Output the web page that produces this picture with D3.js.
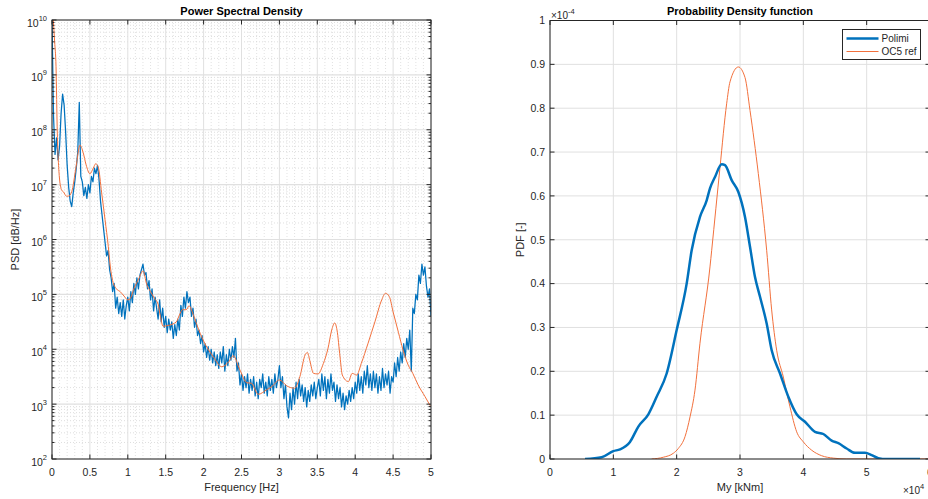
<!DOCTYPE html>
<html>
<head>
<meta charset="utf-8">
<script src="https://cdn.jsdelivr.net/npm/d3@7"></script>
<style>
  html, body { margin: 0; padding: 0; background: #ffffff; }
  svg { display: block; }
</style>
</head>
<body>
<script>
// ---------- Power spectral density ----------
// Polimi PSD sampled every 0.02 Hz from 0 to 5 Hz
const psdStep = 0.02;
const psdPolimi = [
  1e10, 1.78e8, 3.55e7, 7.08e7, 2.82e7, 5.01e7, 2.0e8, 4.47e8, 2.82e8, 8.91e7,
  2.24e7, 8.91e6, 5.01e6, 3.98e6, 7.08e6, 1.12e7, 2.0e7, 3.98e7, 3.16e8, 1.41e7,
  1.12e7, 6.31e6, 8.91e6, 5.62e6, 1.0e7, 7.08e6, 1.41e7, 1.12e7, 2.0e7, 1.58e7,
  2.24e7, 1.26e7, 5.01e6, 2.82e6, 1.58e6, 8.91e5, 5.01e5, 6.31e5, 2.82e5, 2.0e5,
  1.12e5, 1.58e5, 5.62e4, 8.91e4, 4.47e4, 7.08e4, 3.98e4, 7.94e4, 3.55e4, 6.31e4,
  8.91e4, 5.01e4, 1.12e5, 7.08e4, 1.58e5, 1.0e5, 2.0e5, 1.26e5, 2.24e5, 2.82e5,
  3.55e5, 2.24e5, 2.51e5, 1.26e5, 1.78e5, 7.94e4, 1.26e5, 5.01e4, 8.91e4, 5.62e4,
  3.55e4, 7.94e4, 3.16e4, 5.62e4, 2.51e4, 3.98e4, 2.0e4, 3.55e4, 2.24e4, 3.16e4,
  1.58e4, 2.82e4, 1.78e4, 3.55e4, 2.24e4, 6.31e4, 3.98e4, 8.91e4, 5.62e4, 1.12e5,
  7.08e4, 8.91e4, 3.98e4, 5.62e4, 2.51e4, 3.55e4, 1.78e4, 2.24e4, 1.26e4, 1.78e4,
  8.91e3, 1.26e4, 7.08e3, 1.12e4, 6.31e3, 1.0e4, 5.62e3, 8.91e3, 5.01e3, 7.94e3,
  4.47e3, 8.91e3, 5.62e3, 1.12e4, 3.98e3, 7.94e3, 5.01e3, 1.0e4, 6.31e3, 1.12e4,
  7.08e3, 1.58e4, 3.98e3, 5.62e3, 2.24e3, 3.55e3, 1.78e3, 3.16e3, 2.0e3, 3.55e3,
  1.58e3, 2.82e3, 1.78e3, 3.16e3, 1.41e3, 2.51e3, 1.26e3, 2.82e3, 2.0e3, 3.55e3,
  1.58e3, 2.51e3, 1.41e3, 3.16e3, 1.78e3, 2.82e3, 1.58e3, 3.55e3, 2.0e3, 2.82e3,
  5.01e3, 2.0e3, 3.16e3, 1.26e3, 2.24e3, 891, 562, 1.58e3, 794, 2.0e3,
  1.0e3, 2.51e3, 1.26e3, 2.82e3, 1.41e3, 2.24e3, 1.12e3, 2.0e3, 891, 1.78e3,
  1.12e3, 2.24e3, 1.41e3, 2.51e3, 1.26e3, 2.0e3, 2.82e3, 1.41e3, 3.55e3, 1.78e3,
  3.16e3, 1.26e3, 2.82e3, 1.58e3, 3.55e3, 1.78e3, 2.51e3, 1.12e3, 2.24e3, 1.26e3,
  2.0e3, 891, 1.58e3, 794, 1.41e3, 1.0e3, 1.78e3, 1.12e3, 2.0e3, 1.26e3,
  2.51e3, 1.58e3, 3.55e3, 1.78e3, 3.16e3, 1.58e3, 3.98e3, 2.24e3, 5.01e3, 2.0e3,
  3.55e3, 1.78e3, 3.98e3, 2.0e3, 3.55e3, 1.58e3, 3.16e3, 1.78e3, 4.47e3, 2.0e3,
  3.55e3, 2.24e3, 3.98e3, 1.58e3, 3.16e3, 2.51e3, 5.62e3, 3.16e3, 7.08e3, 3.98e3,
  8.91e3, 5.62e3, 1.26e4, 7.08e3, 1.58e4, 1.0e4, 2.24e4, 3.98e3, 5.62e4, 4.47e4,
  1.0e5, 7.94e4, 2.24e5, 1.58e5, 3.55e5, 2.24e5, 3.16e5, 1.41e5, 8.91e4, 1.26e5,
  3.98e4
];

// OC5 reference PSD (smooth spectrum)
const ocFreq = [
  0.017, 0.035, 0.053, 0.070, 0.083, 0.097, 0.127, 0.150, 0.19, 0.216,
  0.26, 0.317, 0.37, 0.41, 0.45, 0.50, 0.545, 0.576, 0.61, 0.655,
  0.70, 0.743, 0.77, 0.80, 0.85, 0.90, 0.95, 1.00, 1.03, 1.08,
  1.15, 1.20, 1.25, 1.30, 1.35, 1.40, 1.43, 1.465, 1.55, 1.64,
  1.68, 1.72, 1.77, 1.81, 1.85, 1.91, 2.00, 2.13, 2.24, 2.33,
  2.39, 2.48, 2.57, 2.63, 2.72, 2.83, 2.90, 3.00, 3.10, 3.20,
  3.27, 3.34, 3.37, 3.40, 3.45, 3.51, 3.58, 3.64, 3.69, 3.73,
  3.76, 3.80, 3.83, 3.91, 3.96, 4.02, 4.08, 4.17, 4.26, 4.35,
  4.40, 4.45, 4.50, 4.57, 4.63, 4.70, 4.76, 4.83, 4.92, 4.99
];
const ocPsd = [
  1e10, 3.98e9, 1.41e9, 8.7e7, 2.82e7, 1.38e7, 7.94e6, 7.41e6, 6.17e6, 6.17e6,
  7.41e6, 2.09e7, 5.25e7, 3.89e7, 2.29e7, 1.58e7, 2.0e7, 2.4e7, 2.09e7, 7.08e6,
  2.29e6, 7.41e5, 3.16e5, 1.78e5, 1.26e5, 1.12e5, 9.33e4, 7.94e4, 8.32e4, 1.26e5,
  2.0e5, 2.69e5, 1.51e5, 1.12e5, 8.51e4, 6.61e4, 3.98e4, 2.63e4, 2.75e4, 3.16e4,
  4.17e4, 5.25e4, 5.25e4, 6.17e4, 4.79e4, 2.82e4, 1.41e4, 7.24e3, 4.79e3, 5.89e3,
  7.59e3, 4.17e3, 2.45e3, 2.4e3, 1.51e3, 1.82e3, 2.09e3, 2.75e3, 2.14e3, 1.95e3,
  3.16e3, 7.94e3, 8.71e3, 6.31e3, 3.63e3, 3.55e3, 5.5e3, 1.02e4, 2.24e4, 3.02e4,
  2.24e4, 7.24e3, 3.39e3, 2.57e3, 3.63e3, 3.39e3, 5.5e3, 1.29e4, 3.16e4, 7.94e4,
  1.05e5, 9.12e4, 4.79e4, 2.04e4, 9.77e3, 5.13e3, 3.63e3, 2.24e3, 1.38e3, 933
];

const freqTicks = [0, 0.5, 1, 1.5, 2, 2.5, 3, 3.5, 4, 4.5, 5];
const psdDecades = [2, 3, 4, 5, 6, 7, 8, 9, 10];

// ---------- Probability density ----------
const myPolimi = [
  5530, 8160, 10000, 11050, 12630, 13950, 15530, 16840, 18420, 20000,
  21580, 22370, 23680, 24740, 25260, 26050, 27110, 27630, 28680, 29740,
  30790, 31580, 32370, 33160, 34210, 35000, 36320, 37630, 38950, 40260,
  41840, 43160, 44470, 45530, 46840, 48160, 49740, 50790, 51840, 53160, 58420
];
const pdfPolimi = [
  0, 0.004e-4, 0.018e-4, 0.022e-4, 0.039e-4, 0.074e-4, 0.102e-4, 0.142e-4, 0.195e-4, 0.294e-4,
  0.400e-4, 0.476e-4, 0.552e-4, 0.590e-4, 0.617e-4, 0.643e-4, 0.672e-4, 0.670e-4, 0.636e-4, 0.609e-4,
  0.552e-4, 0.484e-4, 0.415e-4, 0.370e-4, 0.309e-4, 0.248e-4, 0.195e-4, 0.142e-4, 0.102e-4, 0.085e-4,
  0.062e-4, 0.057e-4, 0.042e-4, 0.036e-4, 0.024e-4, 0.014e-4, 0.014e-4, 0.009e-4, 0.002e-4, 0, 0
];
const myOc5 = [
  16050, 17890, 19470, 20260, 21320, 22110, 22890, 23680, 25260, 25530,
  26840, 27890, 28420, 29740, 30790, 31580, 32890, 34210, 35000, 35790,
  36840, 37890, 38950, 40000, 41320, 42890, 44740, 46840, 60000
];
const pdfOc5 = [
  0, 0.004e-4, 0.013e-4, 0.024e-4, 0.051e-4, 0.096e-4, 0.157e-4, 0.264e-4, 0.438e-4, 0.476e-4,
  0.665e-4, 0.810e-4, 0.860e-4, 0.894e-4, 0.870e-4, 0.795e-4, 0.651e-4, 0.476e-4, 0.340e-4, 0.248e-4,
  0.187e-4, 0.119e-4, 0.062e-4, 0.039e-4, 0.020e-4, 0.0075e-4, 0.002e-4, 0, 0
];
const myTicks = [0, 1e4, 2e4, 3e4, 4e4, 5e4, 6e4];
const pdfTicks = [0, 0.1e-4, 0.2e-4, 0.3e-4, 0.4e-4, 0.5e-4, 0.6e-4, 0.7e-4, 0.8e-4, 0.9e-4, 1e-4];

const seriesNames = ["Polimi", "OC5 ref"];

// ---------- styling ----------
const BLUE = "#0072BD";
const ORANGE = "#F2703C";
const AXIS = "#262626";
const GRID = "#e0e0e0";
const MINOR = "#d6d6d6";
const FONT = "'Liberation Sans', Arial, Helvetica, sans-serif";

const W = 928, H = 499;
const svg = d3.select("body").append("svg")
  .attr("width", W).attr("height", H)
  .style("font-family", FONT);

// ================= Left panel: PSD =================
const L = { x0: 52, x1: 431, y0: 20, y1: 459 };
const xL = d3.scaleLinear().domain([0, 5]).range([L.x0, L.x1]);
const yL = d3.scaleLog().domain([1e2, 1e10]).range([L.y1, L.y0]);

const gL = svg.append("g");
svg.append("clipPath").attr("id", "clipL").append("rect")
  .attr("x", L.x0).attr("y", L.y0).attr("width", L.x1 - L.x0).attr("height", L.y1 - L.y0);

const isDecade = v => Math.abs(Math.log10(v) - Math.round(Math.log10(v))) < 1e-9;
const yAll = yL.ticks();
const yMinor = yAll.filter(v => !isDecade(v));
const xMinor = xL.ticks(50).filter(v => !freqTicks.some(t => Math.abs(t - v) < 1e-9));

// minor grid (dotted)
gL.append("g").selectAll("line").data(xMinor).join("line")
  .attr("x1", d => xL(d)).attr("x2", d => xL(d))
  .attr("y1", L.y0).attr("y2", L.y1)
  .attr("stroke", MINOR).attr("stroke-width", 0.7).attr("stroke-dasharray", "1,2");
gL.append("g").selectAll("line").data(yMinor).join("line")
  .attr("x1", L.x0).attr("x2", L.x1)
  .attr("y1", d => yL(d)).attr("y2", d => yL(d))
  .attr("stroke", MINOR).attr("stroke-width", 0.8).attr("stroke-dasharray", "1,2");
// major grid
gL.append("g").selectAll("line").data(freqTicks).join("line")
  .attr("x1", d => xL(d)).attr("x2", d => xL(d))
  .attr("y1", L.y0).attr("y2", L.y1)
  .attr("stroke", GRID).attr("stroke-width", 1);
gL.append("g").selectAll("line").data(psdDecades).join("line")
  .attr("x1", L.x0).attr("x2", L.x1)
  .attr("y1", d => yL(Math.pow(10, d))).attr("y2", d => yL(Math.pow(10, d)))
  .attr("stroke", GRID).attr("stroke-width", 1.2);

// curves
const psdLine = d3.line().x(d => xL(d[0])).y(d => yL(d[1]));
const polimiPts = psdPolimi.map((v, i) => [i * psdStep, v]);
const ocPts = ocFreq.map((f, i) => [f, ocPsd[i]]);

gL.append("path").datum(polimiPts)
  .attr("clip-path", "url(#clipL)")
  .attr("fill", "none").attr("stroke", BLUE).attr("stroke-width", 1.25)
  .attr("stroke-linejoin", "round")
  .attr("d", psdLine);
gL.append("path").datum(ocPts)
  .attr("clip-path", "url(#clipL)")
  .attr("fill", "none").attr("stroke", ORANGE).attr("stroke-width", 1)
  .attr("d", psdLine.curve(d3.curveMonotoneX));

// box
gL.append("rect").attr("x", L.x0).attr("y", L.y0)
  .attr("width", L.x1 - L.x0).attr("height", L.y1 - L.y0)
  .attr("fill", "none").attr("stroke", AXIS).attr("stroke-width", 1);

// ticks (inward)
const tickG = gL.append("g").attr("stroke", AXIS).attr("stroke-width", 1);
freqTicks.forEach(t => {
  const x = xL(t);
  tickG.append("line").attr("x1", x).attr("x2", x).attr("y1", L.y1).attr("y2", L.y1 - 4.5);
  tickG.append("line").attr("x1", x).attr("x2", x).attr("y1", L.y0).attr("y2", L.y0 + 4.5);
});
yAll.forEach(v => {
  const y = yL(v);
  const len = isDecade(v) ? 4.5 : 2.5;
  tickG.append("line").attr("x1", L.x0).attr("x2", L.x0 + len).attr("y1", y).attr("y2", y);
  tickG.append("line").attr("x1", L.x1).attr("x2", L.x1 - len).attr("y1", y).attr("y2", y);
});

// tick labels
gL.append("g").selectAll("text").data(freqTicks).join("text")
  .attr("x", d => xL(d)).attr("y", 476)
  .attr("text-anchor", "middle").attr("font-size", 10.5).attr("fill", AXIS)
  .text(d => d3.format("~g")(d));
psdDecades.forEach(e => {
  const y = yL(Math.pow(10, e));
  const t = gL.append("text").attr("x", 47).attr("y", y + 6.5)
    .attr("text-anchor", "end").attr("font-size", 10.5).attr("fill", AXIS);
  t.append("tspan").text("10");
  t.append("tspan").attr("dy", -6).attr("font-size", 7.5).text(String(e));
});

// labels
gL.append("text").attr("x", (L.x0 + L.x1) / 2).attr("y", 15)
  .attr("text-anchor", "middle").attr("font-size", 11).attr("font-weight", "bold").attr("fill", "#000")
  .text("Power Spectral Density");
gL.append("text").attr("x", (L.x0 + L.x1) / 2).attr("y", 491)
  .attr("text-anchor", "middle").attr("font-size", 11).attr("fill", AXIS)
  .text("Frequency [Hz]");
gL.append("text")
  .attr("transform", `translate(19,${(L.y0 + L.y1) / 2}) rotate(-90)`)
  .attr("text-anchor", "middle").attr("font-size", 11).attr("fill", AXIS)
  .text("PSD [dB/Hz]");

// ================= Right panel: PDF =================
const R = { x0: 550, x1: 930, y0: 20.5, y1: 459 };
const xR = d3.scaleLinear().domain([0, 6e4]).range([R.x0, R.x1]);
const yR = d3.scaleLinear().domain([0, 1e-4]).range([R.y1, R.y0]);
const gR = svg.append("g");
svg.append("clipPath").attr("id", "clipR").append("rect")
  .attr("x", R.x0).attr("y", R.y0).attr("width", R.x1 - R.x0).attr("height", R.y1 - R.y0);

gR.append("g").selectAll("line").data(myTicks).join("line")
  .attr("x1", d => xR(d)).attr("x2", d => xR(d))
  .attr("y1", R.y0).attr("y2", R.y1)
  .attr("stroke", GRID).attr("stroke-width", 1);
gR.append("g").selectAll("line").data(pdfTicks).join("line")
  .attr("x1", R.x0).attr("x2", R.x1)
  .attr("y1", d => yR(d)).attr("y2", d => yR(d))
  .attr("stroke", GRID).attr("stroke-width", 1);

const pdfLine = d3.line().x(d => xR(d[0])).y(d => yR(d[1])).curve(d3.curveMonotoneX);
gR.append("path").datum(myOc5.map((v, i) => [v, pdfOc5[i]]))
  .attr("clip-path", "url(#clipR)")
  .attr("fill", "none").attr("stroke", ORANGE).attr("stroke-width", 1)
  .attr("d", pdfLine);
gR.append("path").datum(myPolimi.map((v, i) => [v, pdfPolimi[i]]))
  .attr("clip-path", "url(#clipR)")
  .attr("fill", "none").attr("stroke", BLUE).attr("stroke-width", 2.5)
  .attr("stroke-linejoin", "round")
  .attr("d", pdfLine);

gR.append("rect").attr("x", R.x0).attr("y", R.y0)
  .attr("width", R.x1 - R.x0).attr("height", R.y1 - R.y0)
  .attr("fill", "none").attr("stroke", AXIS).attr("stroke-width", 1);

const tickR = gR.append("g").attr("stroke", AXIS).attr("stroke-width", 1);
myTicks.forEach(t => {
  const x = xR(t);
  tickR.append("line").attr("x1", x).attr("x2", x).attr("y1", R.y1).attr("y2", R.y1 - 4.5);
  tickR.append("line").attr("x1", x).attr("x2", x).attr("y1", R.y0).attr("y2", R.y0 + 4.5);
});
pdfTicks.forEach(t => {
  const y = yR(t);
  tickR.append("line").attr("x1", R.x0).attr("x2", R.x0 + 4.5).attr("y1", y).attr("y2", y);
  tickR.append("line").attr("x1", R.x1).attr("x2", R.x1 - 4.5).attr("y1", y).attr("y2", y);
});

gR.append("g").selectAll("text").data(myTicks).join("text")
  .attr("x", d => xR(d)).attr("y", 476)
  .attr("text-anchor", "middle").attr("font-size", 10.5).attr("fill", AXIS)
  .text(d => d3.format("~g")(d / 1e4));
gR.append("g").selectAll("text").data(pdfTicks).join("text")
  .attr("x", 545).attr("y", d => yR(d) + 3.8)
  .attr("text-anchor", "end").attr("font-size", 10.5).attr("fill", AXIS)
  .text(d => d3.format("~g")(Math.round(d * 1e5) / 10));

// exponent multipliers
const mY = gR.append("text").attr("x", 551).attr("y", 18.5)
  .attr("font-size", 10).attr("fill", AXIS);
mY.append("tspan").text("\u00d710");
mY.append("tspan").attr("dy", -5).attr("font-size", 7.5).text("-4");
const mX = gR.append("text").attr("x", 903).attr("y", 493.5)
  .attr("font-size", 10).attr("fill", AXIS);
mX.append("tspan").text("\u00d710");
mX.append("tspan").attr("dy", -5).attr("font-size", 7.5).text("4");

gR.append("text").attr("x", 740).attr("y", 15)
  .attr("text-anchor", "middle").attr("font-size", 11).attr("font-weight", "bold").attr("fill", "#000")
  .text("Probability Density function");
gR.append("text").attr("x", 740).attr("y", 491)
  .attr("text-anchor", "middle").attr("font-size", 11).attr("fill", AXIS)
  .text("My [kNm]");
gR.append("text")
  .attr("transform", `translate(524,${(R.y0 + R.y1) / 2}) rotate(-90)`)
  .attr("text-anchor", "middle").attr("font-size", 11).attr("fill", AXIS)
  .text("PDF [-]");

// legend
const lg = gR.append("g");
lg.append("rect").attr("x", 842.5).attr("y", 29.5).attr("width", 78).attr("height", 30)
  .attr("fill", "#fff").attr("stroke", AXIS).attr("stroke-width", 1);
const legendStyles = [
  { color: BLUE, width: 2.5, y: 38.5 },
  { color: ORANGE, width: 1, y: 51.5 }
];
seriesNames.forEach((name, i) => {
  const s = legendStyles[i];
  lg.append("line").attr("x1", 846.5).attr("x2", 878.5).attr("y1", s.y).attr("y2", s.y)
    .attr("stroke", s.color).attr("stroke-width", s.width);
  lg.append("text").attr("x", 881.5).attr("y", s.y + 3.6)
    .attr("font-size", 10).attr("fill", AXIS).text(name);
});
</script>
</body>
</html>
